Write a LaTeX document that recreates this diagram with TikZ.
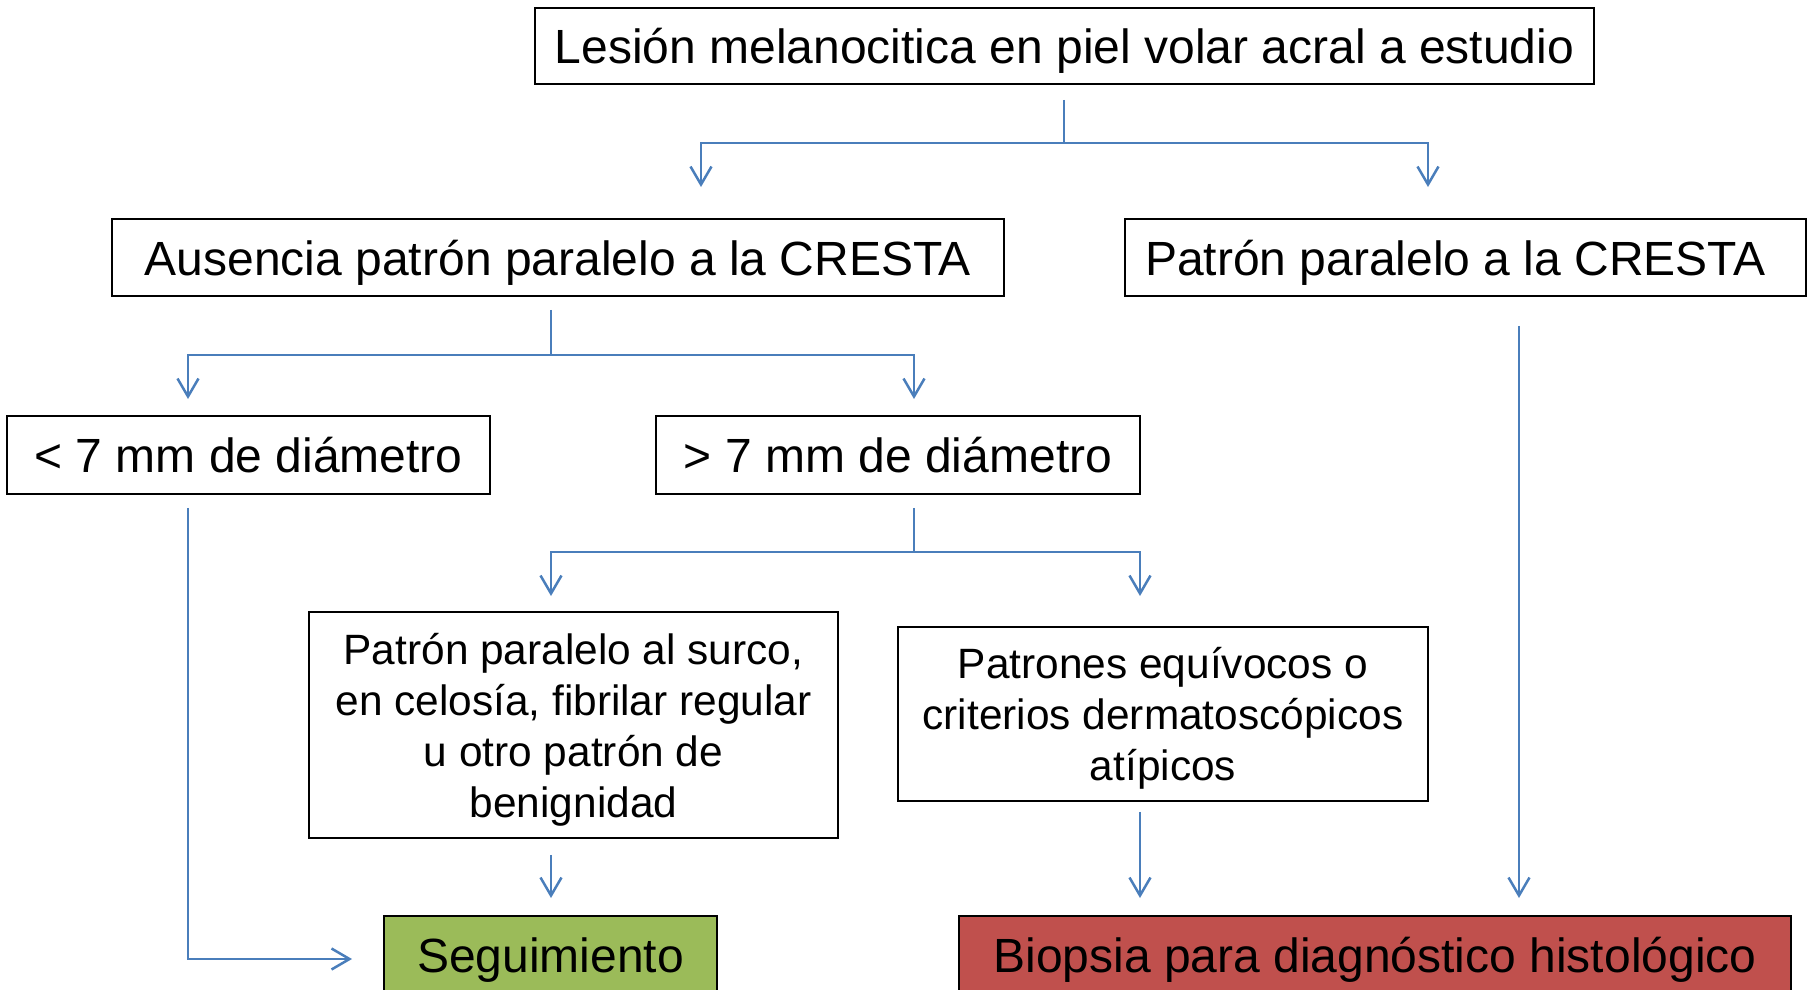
\documentclass[tikz,border=0pt]{standalone}
\usepackage{fontspec}
\setmainfont{Liberation Sans}
\usepackage{tikz}
\usepackage{xcolor}
\usetikzlibrary{arrows.meta}
\definecolor{link-blue}{HTML}{4A7EBB}
\definecolor{follow-green}{HTML}{9BBB59}
\definecolor{biopsy-red}{HTML}{C0504D}
\tikzset{
    flow-box/.style = {draw=black, line width=1.8pt, fill=white, rectangle, inner sep=0pt, text depth=0pt, align=center, font=\fontsize{48}{58}\selectfont},
    flow-box-small/.style = {flow-box, font=\fontsize{42.4}{51}\selectfont},
    flow-link/.style = {draw=link-blue, line width=2.5pt},
    flow-arrow/.style = {flow-link, -{Straight Barb[length=18pt,width=21pt]}},
}

\begin{document}
\begin{tikzpicture}[x=1pt,y=-1pt]
\useasboundingbox (0,0) rectangle (1808,990);

\node[flow-box, minimum width=1059pt, minimum height=76pt] (lesion) at (1064.5,46) {Lesión melanocitica en piel volar acral a estudio};
\node[flow-box, minimum width=892pt, minimum height=77pt] (ausencia) at (558,257.5) {Ausencia patrón paralelo a la CRESTA};
\node[flow-box, minimum width=681pt, minimum height=77pt] (cresta) at (1465.5,257.5) {Patrón paralelo a la CRESTA\hspace*{20pt}};
\node[flow-box, minimum width=483pt, minimum height=78pt] (menor) at (248.5,455) {< 7 mm de diámetro};
\node[flow-box, minimum width=484pt, minimum height=78pt] (mayor) at (898,455) {> 7 mm de diámetro};
\node[flow-box-small, minimum width=529pt, minimum height=226pt] (benigno) at (573.5,725) {Patrón paralelo al surco,\\en celosía, fibrilar regular\\u otro patrón de\\benignidad};
\node[flow-box-small, minimum width=530pt, minimum height=174pt] (atipico) at (1163,714) {Patrones equívocos o\\criterios dermatoscópicos\\atípicos};
\node[flow-box, fill=follow-green, minimum width=333pt, minimum height=78pt] (seguimiento) at (550.5,955) {Seguimiento};
\node[flow-box, fill=biopsy-red, minimum width=832pt, minimum height=78pt] (biopsia) at (1375,955) {Biopsia para diagnóstico histológico};

% forks and arrow ends
\coordinate (fork1) at (1064,143);
\coordinate (fork2) at (551,355);
\coordinate (fork3) at (914,552);
\coordinate (tip1) at (701,187);
\coordinate (tip2) at (1428,187);
\coordinate (tip3) at (188,399);
\coordinate (tip4) at (914,399);
\coordinate (tip5) at (551,596);
\coordinate (tip6) at (1140,596);
\coordinate (tip7) at (551,898);
\coordinate (tip8) at (1140,898);
\coordinate (tip9) at (1519,898);
\coordinate (tip10) at (352,959);

\draw[flow-link, shorten <=15pt] (lesion.south -| fork1) -- (fork1);
\draw[flow-arrow] (fork1) -| (tip1);
\draw[flow-arrow] (fork1) -| (tip2);

\draw[flow-link, shorten <=13pt] (ausencia.south -| fork2) -- (fork2);
\draw[flow-arrow] (fork2) -| (tip3);
\draw[flow-arrow] (fork2) -| (tip4);

\draw[flow-link, shorten <=13pt] (mayor.south -| fork3) -- (fork3);
\draw[flow-arrow] (fork3) -| (tip5);
\draw[flow-arrow] (fork3) -| (tip6);

\draw[flow-arrow, shorten <=16pt] (benigno.south -| tip7) -- (tip7);
\draw[flow-arrow, shorten <=10pt] (atipico.south -| tip8) -- (tip8);
\draw[flow-arrow, shorten <=29pt] (cresta.south -| tip9) -- (tip9);
\draw[flow-arrow, shorten <=13pt] (menor.south -| tip3) |- (tip10);
\end{tikzpicture}
\end{document}
